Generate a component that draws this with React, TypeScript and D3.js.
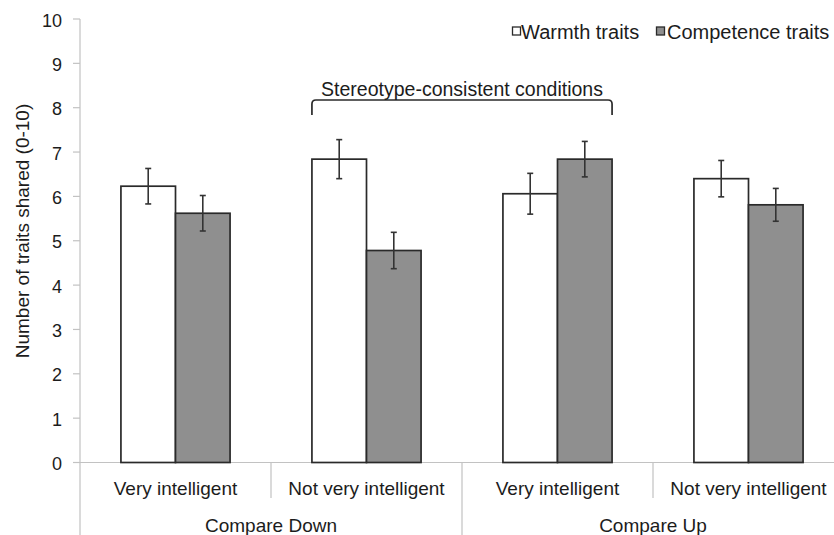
import React from 'react';
import * as d3 from 'd3';

const groups = ['Compare Down', 'Compare Up'];
const conditions = ['Very intelligent', 'Not very intelligent', 'Very intelligent', 'Not very intelligent'];
const series = ['Warmth traits', 'Competence traits'];
const warmth = [6.23, 6.84, 6.06, 6.4];
const competence = [5.62, 4.78, 6.84, 5.81];
const warmthErr = [0.4, 0.44, 0.46, 0.41];
const competenceErr = [0.4, 0.41, 0.4, 0.37];
const yTicks = [0, 1, 2, 3, 4, 5, 6, 7, 8, 9, 10];

const W = 834;
const H = 535;
const FONT = '"Liberation Sans", Arial, sans-serif';
const fills = ['#ffffff', '#8f8f8f'];
const AXIS = '#c2c2c2';
const INK = '#1c1c1c';

const App: React.FC = () => {
  const y = d3.scaleLinear().domain([0, 10]).range([462.5, 19]);
  const idx = conditions.map((_, i) => String(i));
  const x0 = d3.scaleBand().domain(idx).range([80, 844]);
  const x1 = d3.scaleBand().domain(series).range([0, x0.bandwidth()]).paddingOuter(0.75);
  const vals = [warmth, competence];
  const errs = [warmthErr, competenceErr];
  const step = x0.bandwidth();

  // bracket over the stereotype-consistent conditions
  const bL = (x0('1') as number) + (x1(series[0]) as number);
  const bR = (x0('2') as number) + (x1(series[1]) as number) + x1.bandwidth();
  const bY = 100;
  const bracket = `M${bL},${bY + 15} L${bL},${bY + 4} Q${bL},${bY} ${bL + 4},${bY} L${bR - 4},${bY} Q${bR},${bY} ${bR},${bY + 4} L${bR},${bY + 15}`;

  return (
    <svg width={W} height={H} style={{ position: 'absolute', left: 0, top: 0, background: '#fff' }} fontFamily={FONT}>
      {/* y axis */}
      <line x1={80} x2={80} y1={y(10)} y2={H} stroke={AXIS} strokeWidth={1.2} />
      {yTicks.map(t => (
        <g key={t}>
          <line x1={73} x2={80} y1={y(t)} y2={y(t)} stroke={AXIS} strokeWidth={1.2} />
          <text x={62} y={y(t) + 7.5} textAnchor="end" fontSize={18} fill={INK}>{t}</text>
        </g>
      ))}
      <text transform={`translate(29,231) rotate(-90)`} textAnchor="middle" fontSize={19} fill={INK}>
        Number of traits shared (0-10)
      </text>

      {/* x axis */}
      <line x1={73} x2={W} y1={y(0)} y2={y(0)} stroke={AXIS} strokeWidth={1.2} />
      {idx.map((d, i) => {
        const xs = (x0(d) as number) + step;
        const outer = i % 2 === 1;
        return <line key={d} x1={xs} x2={xs} y1={y(0)} y2={outer ? H : 498} stroke={AXIS} strokeWidth={1.2} />;
      })}
      {conditions.map((c, i) => (
        <text key={i} x={(x0(String(i)) as number) + step / 2} y={495} textAnchor="middle" fontSize={19} fill={INK}>{c}</text>
      ))}
      {groups.map((g, i) => (
        <text key={g} x={(x0(String(i * 2)) as number) + step} y={532} textAnchor="middle" fontSize={19} fill={INK}>{g}</text>
      ))}

      {/* bars */}
      {idx.map((d, i) => (
        <g key={d} transform={`translate(${x0(d)},0)`}>
          {series.map((s, k) => {
            const v = vals[k][i];
            const e = errs[k][i];
            const bx = x1(s) as number;
            const cx = bx + x1.bandwidth() / 2;
            return (
              <g key={s}>
                <rect x={bx} y={y(v)} width={x1.bandwidth()} height={y(0) - y(v)} fill={fills[k]} stroke="#2a2a2a" strokeWidth={1.7} />
                <line x1={cx} x2={cx} y1={y(v + e)} y2={y(v - e)} stroke="#333" strokeWidth={1.6} />
                <line x1={cx - 3} x2={cx + 3} y1={y(v + e)} y2={y(v + e)} stroke="#333" strokeWidth={1.6} />
                <line x1={cx - 3} x2={cx + 3} y1={y(v - e)} y2={y(v - e)} stroke="#333" strokeWidth={1.6} />
              </g>
            );
          })}
        </g>
      ))}

      {/* bracket */}
      <path d={bracket} fill="none" stroke="#2a2a2a" strokeWidth={1.7} />
      <text x={(bL + bR) / 2} y={96} textAnchor="middle" fontSize={19.5} fill={INK}>Stereotype-consistent conditions</text>

      {/* legend */}
      <rect x={512.5} y={27} width={8} height={8} fill={fills[0]} stroke="#2a2a2a" strokeWidth={1.3} />
      <text x={521} y={39} fontSize={20} fill={INK}>{series[0]}</text>
      <rect x={656.5} y={27} width={8} height={8} fill={fills[1]} stroke="#2a2a2a" strokeWidth={1.3} />
      <text x={667} y={39} fontSize={20} fill={INK}>{series[1]}</text>
    </svg>
  );
};

export default App;
